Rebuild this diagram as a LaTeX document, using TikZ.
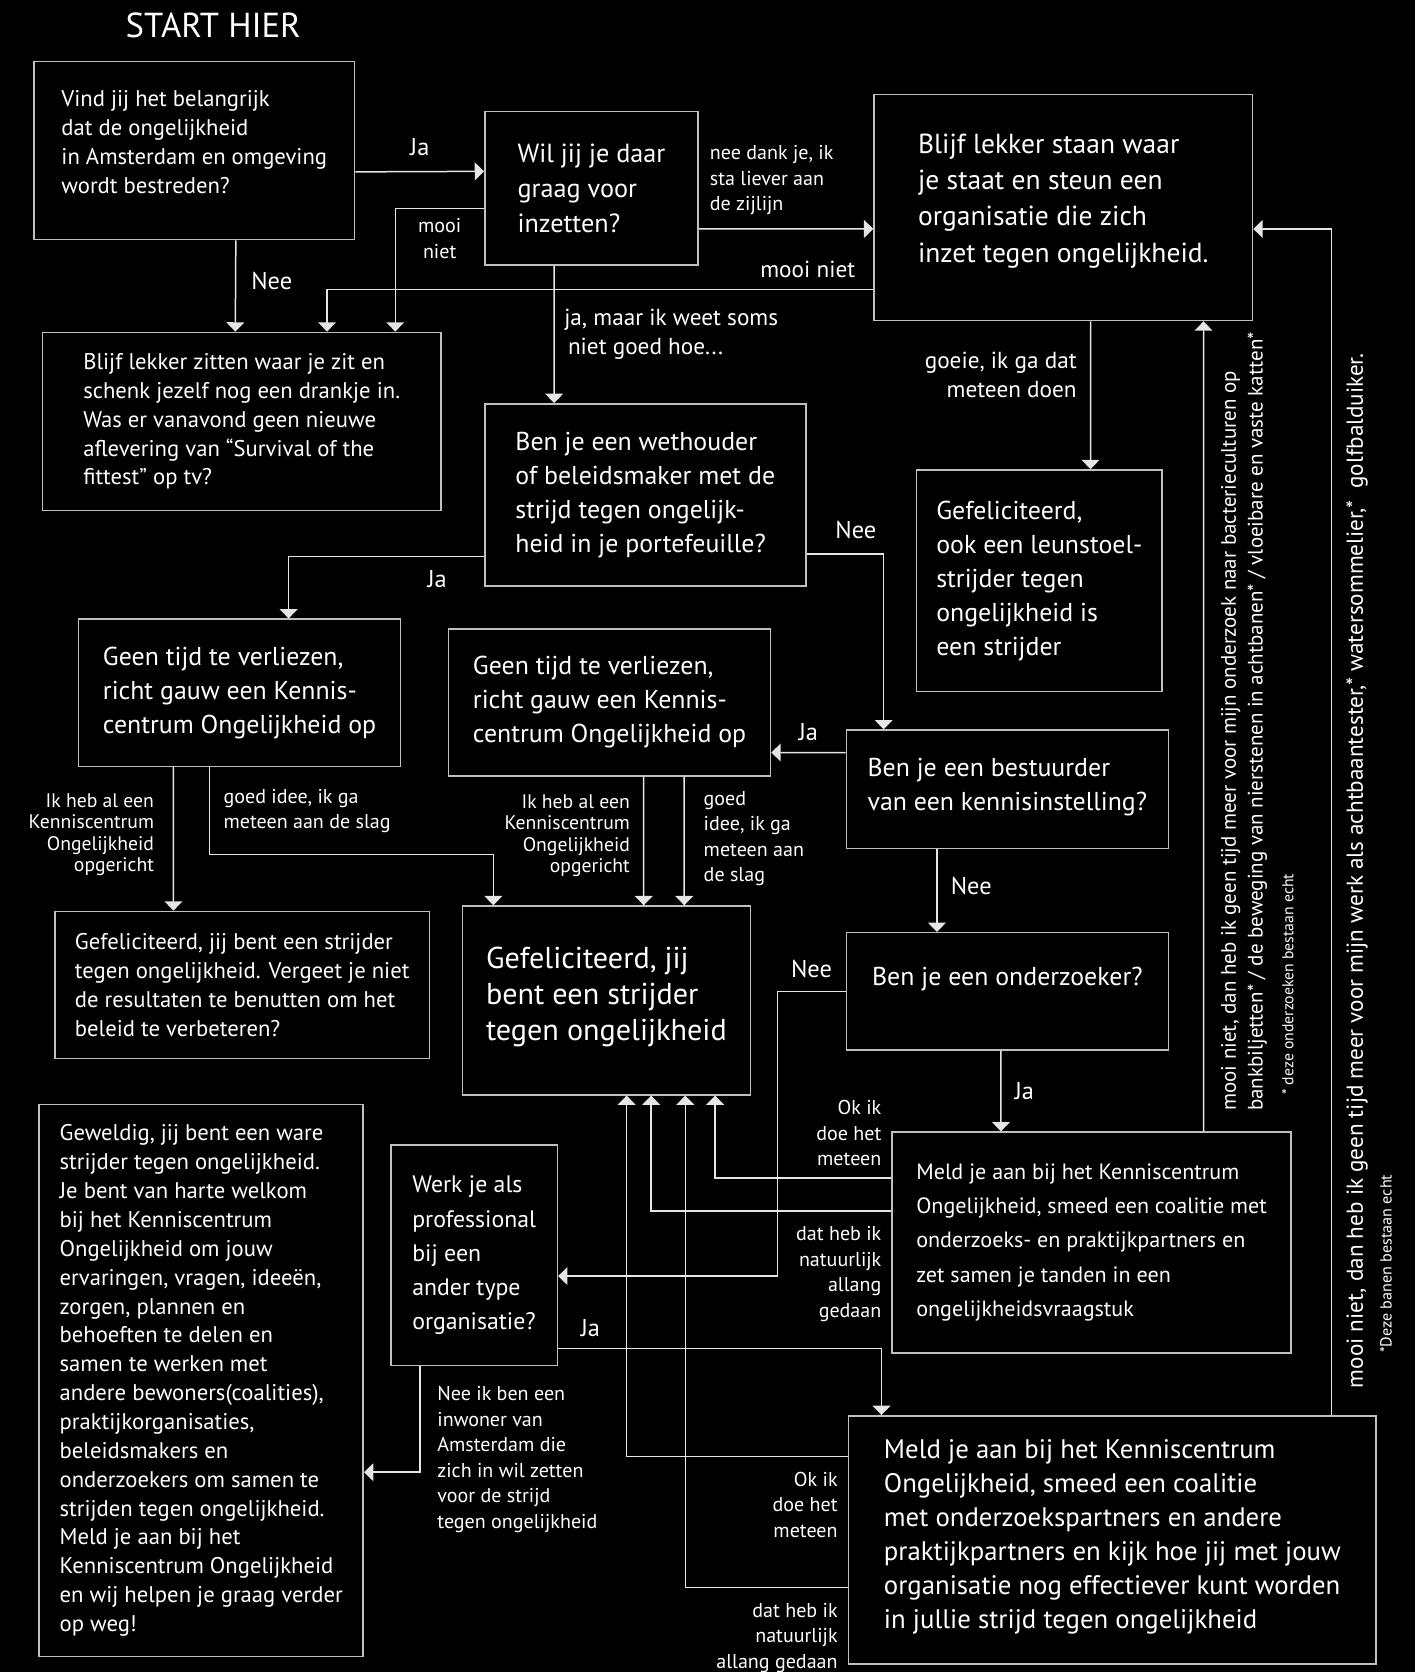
\documentclass[tikz,border=0pt]{standalone}
\usepackage{fontspec}
\setmainfont{PT Sans}
\usepackage{xcolor}
\usetikzlibrary{arrows.meta,calc}

\definecolor{boxline}{gray}{0.75}
\definecolor{flowline}{gray}{0.9}

\begin{document}
\begin{tikzpicture}[
    x=0.02cm, y=-0.02cm,
    box/.style={draw=boxline, line width=0.8pt, text=white, align=left, anchor=north west, inner sep=0pt},
    fsmall/.style={font=\fontsize{12.1}{15.4}\selectfont},
    fmid/.style={font=\fontsize{13.8}{18.2}\selectfont},
    fbig/.style={font=\fontsize{14.7}{19.3}\selectfont},
    flow line/.style={draw=flowline, line width=0.8pt, -{Triangle[width=9.5pt,length=5pt]}},
    yes no/.style={text=white, font=\fontsize{13}{15}\selectfont, inner sep=2pt},
    note/.style={text=white, font=\fontsize{10.7}{13.6}\selectfont, inner sep=2pt},
    big note/.style={text=white, font=\fontsize{12.4}{15.6}\selectfont, inner sep=2pt},
    tiny note/.style={text=white, font=\fontsize{10.5}{11.4}\selectfont, inner sep=2pt},
    turned/.style={text=white, rotate=90, anchor=west, align=left, inner sep=0pt}
    ]
\path[use as bounding box, fill=black] (0,0) rectangle (1327,1568);

% questions and answers
\node[text=white, font=\fontsize{18.5}{20}\selectfont] (start) at (200,24) {START HIER};
\node[box, fsmall, minimum width=6.02cm, minimum height=3.34cm] (belang) at (31,57)
  {Vind jij het belangrijk\\dat de ongelijkheid\\in Amsterdam en omgeving\\wordt bestreden?\\[-6.4pt]};
\node[box, font=\fontsize{14}{18.8}\selectfont, minimum width=4cm, minimum height=2.88cm] (inzet) at (454,104)
  {Wil jij je daar\\graag voor\\inzetten?};
\node[box, fbig, minimum width=7.1cm, minimum height=4.24cm] (staan) at (819,88)
  {Blijf lekker staan waar\\je staat en steun een\\organisatie die zich\\inzet tegen ongelijkheid.\\[-9.1pt]};
\node[box, fsmall, minimum width=7.48cm, minimum height=3.34cm] (zitten) at (39,311)
  {Blijf lekker zitten waar je zit en\\schenk jezelf nog een drankje in.\\Was er vanavond geen nieuwe\\aflevering van “Survival of the\\fittest” op tv?};
\node[box, fmid, minimum width=6.02cm, minimum height=3.42cm] (wethouder) at (454,378)
  {Ben je een wethouder\\of beleidsmaker met de\\strijd tegen ongelijk-\\heid in je portefeuille?};
\node[box, fmid, minimum width=4.6cm, minimum height=4.16cm] (leunstoel) at (859,440)
  {Gefeliciteerd,\\ook een leunstoel-\\strijder tegen\\ongelijkheid is\\een strijder};
\node[box, fmid, minimum width=6.04cm, minimum height=2.76cm] (tijdlinks) at (73,580)
  {Geen tijd te verliezen,\\richt gauw een Kennis-\\centrum Ongelijkheid op};
\node[box, fmid, minimum width=6.04cm, minimum height=2.76cm] (tijdmidden) at (420,589)
  {Geen tijd te verliezen,\\richt gauw een Kennis-\\centrum Ongelijkheid op};
\node[box, fmid, minimum width=6.04cm, minimum height=2.22cm] (bestuurder) at (793,684)
  {Ben je een bestuurder\\van een kennisinstelling?\\[-13pt]};
\node[box, fsmall, minimum width=7.02cm, minimum height=2.76cm] (benutten) at (51,854)
  {Gefeliciteerd, jij bent een strijder\\tegen ongelijkheid. Vergeet je niet\\de resultaten te benutten om het\\beleid te verbeteren?};
\node[box, font=\fontsize{16.1}{19.3}\selectfont, minimum width=5.4cm, minimum height=3.54cm] (strijder) at (433,849)
  {Gefeliciteerd, jij\\bent een strijder\\tegen ongelijkheid\\[-12.5pt]};
\node[box, fmid, minimum width=6.04cm, minimum height=2.2cm] (onderzoeker) at (793,874)
  {Ben je een onderzoeker?\\[-2pt]};
\node[box, fsmall, minimum width=6.08cm, minimum height=10.36cm] (geweldig) at (36,1035)
  {Geweldig, jij bent een ware\\strijder tegen ongelijkheid.\\Je bent van harte welkom\\bij het Kenniscentrum\\Ongelijkheid om jouw\\ervaringen, vragen, ideeën,\\zorgen, plannen en\\behoeften te delen en\\samen te werken met\\andere bewoners(coalities),\\praktijkorganisaties,\\beleidsmakers en\\onderzoekers om samen te\\strijden tegen ongelijkheid.\\Meld je aan bij het\\Kenniscentrum Ongelijkheid\\en wij helpen je graag verder\\op weg!};
\node[box, font=\fontsize{12.7}{18.2}\selectfont, minimum width=3.12cm, minimum height=4.14cm] (professional) at (366,1073)
  {Werk je als\\professional\\bij een\\ander type\\organisatie?};
\node[box, font=\fontsize{11.8}{18.2}\selectfont, minimum width=7.48cm, minimum height=4.14cm] (meldaan) at (836,1061)
  {Meld je aan bij het Kenniscentrum\\Ongelijkheid, smeed een coalitie met\\onderzoeks- en praktijkpartners en\\zet samen je tanden in een\\ongelijkheidsvraagstuk};
\node[box, font=\fontsize{14.3}{18.2}\selectfont, minimum width=9.9cm, minimum height=4.66cm] (meldorg) at (795,1327)
  {Meld je aan bij het Kenniscentrum\\Ongelijkheid, smeed een coalitie\\met onderzoekspartners en andere\\praktijkpartners en kijk hoe jij met jouw\\organisatie nog effectiever kunt worden\\in jullie strijd tegen ongelijkheid\\[-12pt]};

% connectors, top part
\draw[flow line] ($(belang.east)+(0,20)$) -- node[yes no, above=6pt] {Ja} ($(inzet.west)+(0,-16)$);
\draw[flow line] ($(belang.south)+(39,0)$) -- node[yes no, right=6pt, pos=.44] {Nee} ($(zitten.north)+(-6,0)$);
\draw[flow line] ($(inzet.west)+(0,19)$) -| node[note, below=3pt, pos=.25, align=center] {mooi\\niet} ($(zitten.north)+(144,0)$);
\draw[flow line] ($(staan.west)+(0,77)$) -| node[big note, above=4pt, pos=.06] {mooi niet} ($(zitten.north)+(80,0)$);
\draw[flow line] ($(inzet.east)+(0,38)$) -- node[note, pos=0, above right, xshift=3.5pt, yshift=5pt, align=left] {nee dank je, ik\\sta liever aan\\de zijlijn} ($(staan.west)+(0,20)$);
\draw[flow line] ($(inzet.south)+(-35,0)$) -- node[big note, right=3pt, pos=.5, align=left] {ja, maar ik weet soms\\\hspace*{2pt}niet goed hoe...} ($(wethouder.north)+(-85.5,0)$);
\draw[flow line] ($(staan.south)+(25.5,0)$) -- node[big note, left=5pt, pos=.36, align=right] {goeie, ik ga dat\\meteen doen} ($(leunstoel.north)+(48,0)$);

% connectors, middle part
\draw[flow line] ($(wethouder.west)+(0,57.5)$) -| node[yes no, below=5pt, pos=.12] {Ja} ($(tijdlinks.north)+(46,0)$);
\draw[flow line] ($(wethouder.east)+(0,55.5)$) -| node[yes no, above=6pt, pos=.32] {Nee} ($(bestuurder.north)+(-116,0)$);
\draw[flow line] ($(bestuurder.west)+(0,-34.5)$) -- node[yes no, above=4pt] {Ja} ($(tijdmidden.east)+(0,47)$);
\draw[flow line] ($(bestuurder.south)+(-66,0)$) -- node[yes no, right=5pt, pos=.44] {Nee} ($(onderzoeker.north)+(-66,0)$);
\draw[flow line] ($(tijdlinks.south)+(-62,0)$) -- node[tiny note, left=8pt, pos=.47, align=right] {Ik heb al een\\Kenniscentrum\\Ongelijkheid\\opgericht} ($(benutten.north)+(-64.5,0)$);
\draw[flow line] ($(tijdlinks.south)+(-28,0)$) -- node[note, right=5pt, align=left] {goed idee, ik ga\\meteen aan de slag} ++(0,82) -| ($(strijder.north)+(-106,0)$);
\draw[flow line] ($(tijdmidden.south)+(32,0)$) -- node[tiny note, left=5pt, pos=.46, align=right] {Ik heb al een\\Kenniscentrum\\Ongelijkheid\\opgericht} ($(strijder.north)+(35,0)$);
\draw[flow line] ($(tijdmidden.south)+(70,0)$) -- node[note, right=8pt, pos=.48, align=left] {goed\\idee, ik ga\\meteen aan\\de slag} ($(strijder.north)+(73,0)$);
\draw[flow line] (onderzoeker.west) -- node[yes no, above=5pt] {Nee} ++(-64,0) |- ($(professional.east)+(0,19.5)$);
\draw[flow line] ($(onderzoeker.south)+(-6,0)$) -- node[yes no, right=5pt] {Ja} ($(meldaan.north)+(-85,0)$);

% connectors, bottom part
\draw[flow line] ($(meldaan.west)+(0,-60.5)$) -| node[note, pos=0, above left, align=right, xshift=-3pt, yshift=4pt] {Ok ik\\doe het\\meteen} ($(strijder.south)+(102,0)$);
\draw[flow line] ($(meldaan.west)+(0,-29.5)$) -| node[note, pos=0, below left, align=right, xshift=-3pt, yshift=-6pt] {dat heb ik\\natuurlijk\\allang\\gedaan} ($(strijder.south)+(42,0)$);
\draw[flow line] ($(meldaan.north)+(105,0)$) -- ($(staan.south)+(131.5,0)$);
\draw[flow line] ($(meldorg.north)+(205.5,0)$) |- ($(staan.east)+(0,20)$);
\draw[flow line] ($(professional.east)+(0,87.5)$) -| node[yes no, above=4pt, pos=.05] {Ja} ($(meldorg.north)+(-216.5,0)$);
\draw[flow line] ($(professional.south)+(-51,0)$) |- node[note, right=7pt, pos=.44, align=left] {Nee ik ben een\\inwoner van\\Amsterdam die\\zich in wil zetten\\voor de strijd\\tegen ongelijkheid} ($(geweldig.east)+(0,86)$);
\draw[flow line] ($(meldorg.west)+(0,-78.5)$) -| node[note, pos=0, below left, align=right, xshift=-3pt, yshift=-6pt] {Ok ik\\doe het\\meteen} ($(strijder.south)+(19,0)$);
\draw[flow line] ($(meldorg.west)+(0,44.5)$) -| node[note, pos=0, below left, align=right, xshift=-3pt, yshift=-6pt] {dat heb ik\\natuurlijk\\allang gedaan} ($(strijder.south)+(74,0)$);

% the long answers along the right side
\node[turned, font=\fontsize{11.2}{14.2}\selectfont] (onderzoeken) at ($(meldaan.north)+(143,-19)$)
  {mooi niet, dan heb ik geen tijd meer voor mijn onderzoek naar bacterieculturen op\\bankbiljetten* / de beweging van nierstenen in achtbanen* / vloeibare en vaste katten*};
\node[turned, font=\fontsize{8.4}{10}\selectfont] (onderzoekenecht) at ($(meldaan.north)+(184,-34)$)
  {* deze onderzoeken bestaan echt};
\node[turned, font=\fontsize{12.35}{15}\selectfont] (banen) at ($(meldorg.north)+(229.5,-25)$)
  {mooi niet, dan heb ik geen tijd meer voor mijn werk als achtbaantester,* watersommelier,*\ \ golfbalduiker.};
\node[turned, font=\fontsize{8.6}{10}\selectfont] (banenecht) at ($(meldorg.north)+(256.5,-58)$)
  {*Deze banen bestaan echt};
\end{tikzpicture}
\end{document}
